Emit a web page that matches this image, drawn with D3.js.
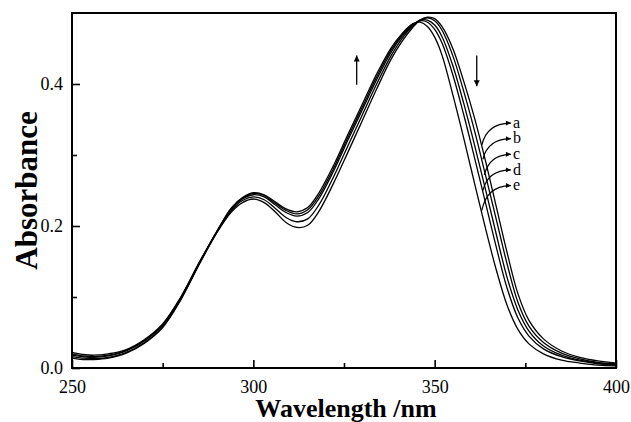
<!DOCTYPE html>
<html>
<head>
<meta charset="utf-8">
<script src="https://cdn.jsdelivr.net/npm/d3@7"></script>
<style>
  body { margin: 0; background: #fff; }
  svg { display: block; }
</style>
</head>
<body>
<div id="chart"></div>
<script>
const wavelengths = [250, 253, 256, 260, 265, 270, 275, 280, 285, 290, 294, 297, 300, 303, 306, 309, 312, 315, 318, 322, 326, 330, 334, 338, 341, 344, 346, 348, 350, 352, 355, 358, 361, 364, 367, 370, 373, 376, 380, 385, 390, 395, 400];

const specA = [0.014, 0.012, 0.012, 0.014, 0.021, 0.035, 0.057, 0.096, 0.145, 0.191, 0.220, 0.233, 0.238, 0.233, 0.220, 0.205, 0.198, 0.201, 0.220, 0.259, 0.303, 0.348, 0.393, 0.435, 0.460, 0.480, 0.490, 0.494, 0.492, 0.481, 0.450, 0.404, 0.352, 0.292, 0.227, 0.162, 0.104, 0.067, 0.041, 0.024, 0.015, 0.010, 0.007];
const specB = [0.016, 0.014, 0.013, 0.015, 0.022, 0.036, 0.058, 0.097, 0.146, 0.192, 0.222, 0.236, 0.241, 0.237, 0.225, 0.212, 0.206, 0.210, 0.229, 0.268, 0.312, 0.356, 0.400, 0.440, 0.464, 0.482, 0.490, 0.493, 0.489, 0.476, 0.440, 0.390, 0.334, 0.272, 0.209, 0.146, 0.092, 0.059, 0.036, 0.021, 0.013, 0.008, 0.006];
const specC = [0.018, 0.016, 0.015, 0.017, 0.024, 0.038, 0.060, 0.098, 0.147, 0.192, 0.224, 0.238, 0.244, 0.241, 0.230, 0.219, 0.214, 0.219, 0.238, 0.276, 0.320, 0.363, 0.406, 0.445, 0.467, 0.483, 0.490, 0.490, 0.483, 0.467, 0.426, 0.373, 0.314, 0.252, 0.188, 0.127, 0.081, 0.052, 0.031, 0.018, 0.011, 0.007, 0.005];
const specD = [0.020, 0.017, 0.016, 0.018, 0.025, 0.039, 0.061, 0.099, 0.147, 0.193, 0.225, 0.239, 0.246, 0.243, 0.232, 0.222, 0.217, 0.223, 0.242, 0.280, 0.324, 0.367, 0.410, 0.448, 0.469, 0.484, 0.489, 0.487, 0.477, 0.458, 0.413, 0.357, 0.296, 0.233, 0.170, 0.112, 0.070, 0.045, 0.027, 0.016, 0.010, 0.006, 0.004];
const specE = [0.022, 0.019, 0.018, 0.020, 0.026, 0.040, 0.062, 0.100, 0.148, 0.193, 0.226, 0.240, 0.247, 0.244, 0.234, 0.224, 0.220, 0.226, 0.246, 0.284, 0.328, 0.371, 0.414, 0.451, 0.471, 0.485, 0.487, 0.481, 0.466, 0.441, 0.385, 0.324, 0.260, 0.197, 0.138, 0.088, 0.054, 0.034, 0.020, 0.011, 0.007, 0.004, 0.003];

const curveNames = ["a", "b", "c", "d", "e"];
const spectra = [specA, specB, specC, specD, specE];

const xTickValues = [250, 300, 350, 400];
const xMinorTicks = [275, 325, 375];
const yTickValues = [0.0, 0.2, 0.4];
const yMinorTicks = [0.1, 0.3];

// label arrows: start on the curve, end at the letter (data units)
const labelArrowStart = [[363.0, 0.314], [363.3, 0.294], [363.7, 0.272], [363.3, 0.250], [363.0, 0.222]];
const labelPos = [[371.3, 0.345], [371.3, 0.323], [371.3, 0.301], [371.3, 0.279], [371.3, 0.257]];
const trendArrows = [
  { lambda: 328.5, from: 0.399, to: 0.440 },
  { lambda: 361.6, from: 0.440, to: 0.397 },
];

const width = 631;
const height = 422;
const plot = { left: 72, right: 616, top: 13, bottom: 368 };

const x = d3.scaleLinear().domain([250, 400]).range([plot.left, plot.right]);
const y = d3.scaleLinear().domain([0, 0.5]).range([plot.bottom, plot.top]);

const svg = d3
  .select("#chart")
  .append("svg")
  .attr("width", width)
  .attr("height", height)
  .style("font-family", "'Liberation Serif', 'Times New Roman', serif");

const defs = svg.append("defs");
defs
  .append("marker")
  .attr("id", "smallHead")
  .attr("viewBox", "0 0 10 10")
  .attr("refX", 10)
  .attr("refY", 5)
  .attr("markerWidth", 7)
  .attr("markerHeight", 5)
  .attr("markerUnits", "userSpaceOnUse")
  .attr("orient", "auto")
  .append("path")
  .attr("d", "M0,0 L10,5 L0,10 Z")
  .attr("fill", "#000");
defs
  .append("marker")
  .attr("id", "bigHead")
  .attr("viewBox", "0 0 10 10")
  .attr("refX", 10)
  .attr("refY", 5)
  .attr("markerWidth", 10)
  .attr("markerHeight", 6)
  .attr("markerUnits", "userSpaceOnUse")
  .attr("orient", "auto")
  .append("path")
  .attr("d", "M0,0 L10,5 L0,10 Z")
  .attr("fill", "#000");

// spectra
const line = d3
  .line()
  .x((d) => x(d[0]))
  .y((d) => y(d[1]))
  .curve(d3.curveCatmullRom.alpha(0.5));

svg
  .append("g")
  .selectAll("path")
  .data(spectra)
  .enter()
  .append("path")
  .attr("d", (s) => line(wavelengths.map((w, i) => [w, s[i]])))
  .attr("fill", "none")
  .attr("stroke", "#000")
  .attr("stroke-width", 1.3);

// axes with inward ticks
const xAxis = svg
  .append("g")
  .attr("transform", `translate(0,${plot.bottom})`)
  .call(d3.axisBottom(x).tickValues(xTickValues).tickSize(-8).tickPadding(12).tickFormat(d3.format("d")));
const xMinorAxis = svg
  .append("g")
  .attr("transform", `translate(0,${plot.bottom})`)
  .call(d3.axisBottom(x).tickValues(xMinorTicks).tickSize(-5).tickFormat(""));
const yAxis = svg
  .append("g")
  .attr("transform", `translate(${plot.left},0)`)
  .call(d3.axisLeft(y).tickValues(yTickValues).tickSize(-8).tickPadding(9).tickFormat(d3.format(".1f")));
const yMinorAxis = svg
  .append("g")
  .attr("transform", `translate(${plot.left},0)`)
  .call(d3.axisLeft(y).tickValues(yMinorTicks).tickSize(-5).tickFormat(""));

[xAxis, xMinorAxis, yAxis, yMinorAxis].forEach((g) => {
  g.select(".domain").remove();
  g.selectAll("line").attr("stroke", "#000").attr("stroke-width", 1.6);
  g.selectAll("text").attr("font-size", 18).attr("font-family", "'Liberation Serif', serif").attr("fill", "#000");
});

// frame
svg
  .append("rect")
  .attr("x", plot.left)
  .attr("y", plot.top)
  .attr("width", plot.right - plot.left)
  .attr("height", plot.bottom - plot.top)
  .attr("fill", "none")
  .attr("stroke", "#000")
  .attr("stroke-width", 2);

// axis titles
svg
  .append("text")
  .attr("x", (plot.left + plot.right) / 2 + 2)
  .attr("y", 417)
  .attr("text-anchor", "middle")
  .attr("font-weight", "bold")
  .attr("font-size", 26)
  .text("Wavelength /nm");

svg
  .append("text")
  .attr("transform", `translate(37,${(plot.top + plot.bottom) / 2}) rotate(-90)`)
  .attr("text-anchor", "middle")
  .attr("font-weight", "bold")
  .attr("font-size", 31)
  .text("Absorbance");

// trend arrows
svg
  .append("g")
  .selectAll("line")
  .data(trendArrows)
  .enter()
  .append("line")
  .attr("x1", (d) => x(d.lambda))
  .attr("x2", (d) => x(d.lambda))
  .attr("y1", (d) => y(d.from))
  .attr("y2", (d) => y(d.to))
  .attr("stroke", "#000")
  .attr("stroke-width", 1.3)
  .attr("marker-end", "url(#bigHead)");

// curve labels with curved arrows
const labelGroup = svg.append("g");
labelGroup
  .selectAll("path")
  .data(curveNames)
  .enter()
  .append("path")
  .attr("d", (d, i) => {
    const x0 = x(labelArrowStart[i][0]);
    const y0 = y(labelArrowStart[i][1]);
    const x1 = x(labelPos[i][0]) - 1;
    const y1 = y(labelPos[i][1]);
    return `M${x0},${y0} Q${x0 + 5},${y1} ${x1},${y1}`;
  })
  .attr("fill", "none")
  .attr("stroke", "#000")
  .attr("stroke-width", 1.2)
  .attr("marker-end", "url(#smallHead)");

labelGroup
  .selectAll("text")
  .data(curveNames)
  .enter()
  .append("text")
  .attr("x", (d, i) => x(labelPos[i][0]) + 1)
  .attr("y", (d, i) => y(labelPos[i][1]))
  .attr("dy", "0.3em")
  .attr("font-size", 16)
  .text((d) => d);
</script>
</body>
</html>
